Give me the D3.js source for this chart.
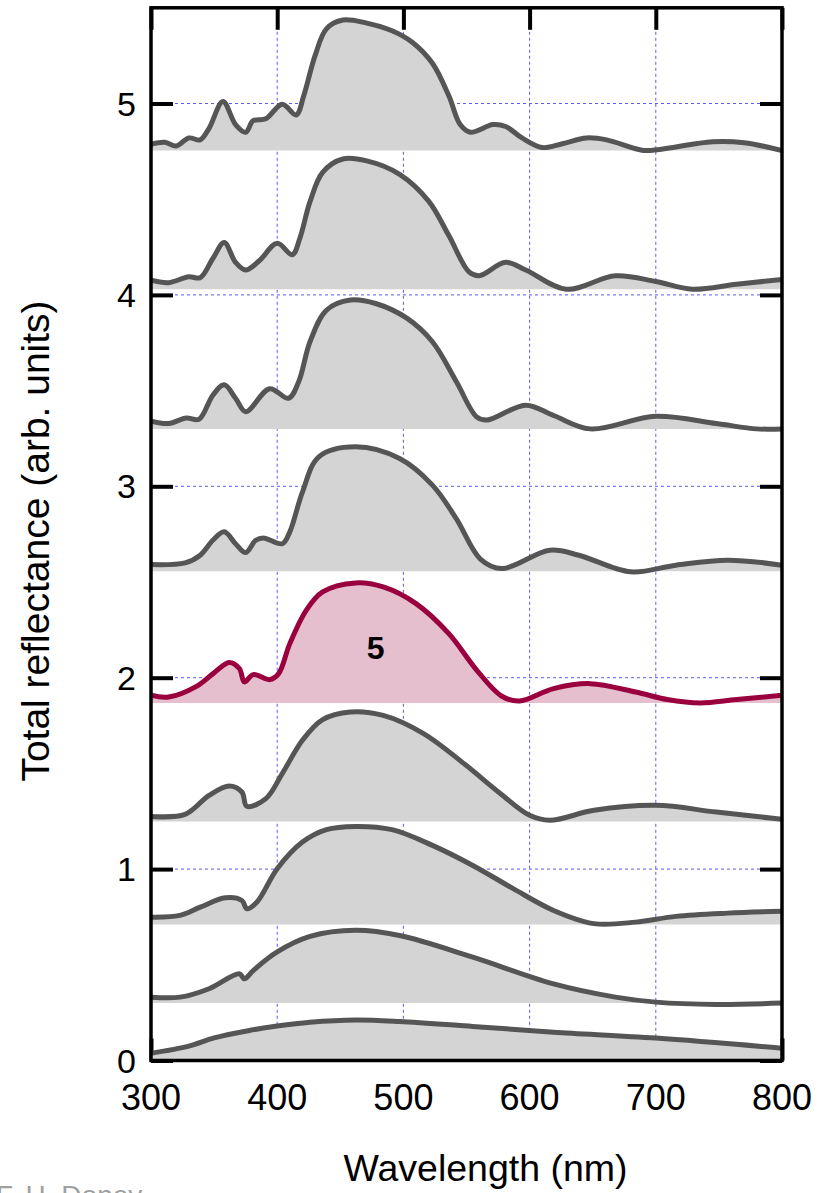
<!DOCTYPE html>
<html>
<head>
<meta charset="utf-8">
<script src="https://cdn.jsdelivr.net/npm/d3@7"></script>
<style>
  html, body { margin: 0; padding: 0; background: #fff; overflow: hidden; }
  svg { display: block; }
  text { font-family: "Liberation Sans", Arial, sans-serif; }
</style>
</head>
<body>
<svg id="chart" width="823" height="1193"></svg>
<script>
// ---- data (wavelength nm, reflectance arb. units) ----
const xTicks = [300, 400, 500, 600, 700, 800];
const yTicks = [0, 1, 2, 3, 4, 5];
const xTitle = "Wavelength (nm)";
const yTitle = "Total reflectance (arb. units)";
const credit = "F. H. Doney";
const highlightLabel = "5";

const s1 = [[300,4.787],[311,4.797],[320,4.778],[330,4.82],[339,4.81],[346,4.87],[357,5.01],[367,4.89],[375,4.85],[381,4.91],[391,4.92],[404,4.996],[415,4.94],[421,5.04],[430,5.25],[439,5.39],[452,5.436],[471,5.42],[491,5.38],[507,5.32],[523,5.21],[536,5.04],[545,4.89],[553,4.85],[571,4.89],[581,4.88],[594,4.82],[610,4.77],[626,4.79],[645,4.82],[661,4.81],[690,4.755],[703,4.76],[745,4.80],[770,4.795],[800,4.754]];
const s2 = [[300,4.077],[314,4.064],[330,4.095],[339,4.09],[349,4.19],[358,4.274],[367,4.17],[375,4.13],[386,4.18],[400,4.27],[412,4.21],[418,4.297],[426,4.487],[436,4.64],[452,4.71],[471,4.70],[497,4.63],[520,4.49],[536,4.31],[552,4.12],[560,4.10],[581,4.17],[597,4.13],[629,4.03],[668,4.10],[700,4.07],[729,4.03],[764,4.056],[800,4.08]];
const s3 = [[300,3.34],[314,3.328],[328,3.357],[338,3.35],[349,3.476],[358,3.53],[367,3.46],[375,3.39],[394,3.51],[409,3.46],[417,3.546],[426,3.755],[439,3.92],[458,3.973],[478,3.955],[503,3.877],[523,3.755],[542,3.546],[558,3.363],[566,3.346],[597,3.424],[619,3.37],[648,3.30],[700,3.366],[748,3.328],[780,3.30],[800,3.30]];
const s4 = [[300,2.591],[327,2.60],[339,2.64],[349,2.718],[358,2.762],[367,2.70],[375,2.654],[383,2.718],[389,2.73],[404,2.70],[410,2.762],[420,2.97],[433,3.154],[462,3.206],[497,3.145],[523,3.006],[542,2.83],[561,2.62],[578,2.57],[616,2.666],[639,2.64],[680,2.553],[716,2.588],[757,2.614],[800,2.588]];
const s5 = [[300,1.908],[314,1.899],[336,1.955],[349,2.02],[362,2.08],[370,2.048],[374,1.978],[381,2.016],[394,1.99],[401,2.02],[410,2.178],[423,2.352],[436,2.448],[462,2.495],[484,2.474],[510,2.387],[536,2.23],[558,2.04],[578,1.903],[592,1.878],[619,1.943],[648,1.969],[684,1.925],[709,1.886],[735,1.868],[764,1.886],[800,1.908]];
const s6 = [[300,1.275],[327,1.286],[346,1.385],[362,1.434],[372,1.403],[376,1.328],[391,1.368],[404,1.499],[420,1.673],[436,1.781],[458,1.821],[484,1.803],[516,1.708],[548,1.551],[577,1.394],[600,1.281],[616,1.255],[651,1.307],[700,1.333],[748,1.298],[800,1.26]];
const s7 = [[300,0.749],[323,0.758],[339,0.801],[359,0.85],[372,0.836],[376,0.793],[384,0.828],[400,1.002],[420,1.141],[439,1.206],[462,1.223],[491,1.206],[523,1.124],[555,1.019],[587,0.898],[619,0.784],[651,0.715],[684,0.723],[716,0.753],[757,0.77],[800,0.78]];
const s8 = [[300,0.331],[323,0.331],[346,0.375],[370,0.453],[374,0.427],[381,0.47],[400,0.567],[426,0.648],[462,0.68],[497,0.653],[555,0.54],[619,0.40],[668,0.331],[700,0.305],[748,0.293],[800,0.30]];
const s9 = [[300,0.038],[330,0.075],[350,0.118],[378,0.157],[400,0.18],[426,0.2],[462,0.212],[497,0.204],[555,0.178],[619,0.148],[700,0.117],[800,0.064]];

const seriesList = [s1, s2, s3, s4, s5, s6, s7, s8, s9];
const baselines = [4.754, 4.03, 3.30, 2.556, 1.868, 1.249, 0.711, 0.30, 0];
const highlightIndex = 4;

// ---- layout ----
const svg = d3.select("#chart");
const L = 151, R = 782, T = 7.8, B = 1060.5;
const x = d3.scaleLinear().domain([300, 800]).range([L, R]);
const y = d3.scaleLinear().domain([0, 5.5]).range([B, T]);

svg.append("defs").append("clipPath").attr("id", "plotclip")
  .append("rect").attr("x", L).attr("y", T).attr("width", R - L).attr("height", B - T);

// grid
const grid = svg.append("g");
grid.selectAll("line.vx").data(xTicks.slice(1, -1)).join("line")
  .attr("x1", d => x(d)).attr("x2", d => x(d)).attr("y1", T).attr("y2", B)
  .attr("stroke", "#5a5aff").attr("stroke-width", 1).attr("stroke-dasharray", "3,3");
grid.selectAll("line.hy").data(yTicks.slice(1)).join("line")
  .attr("x1", L).attr("x2", R).attr("y1", d => y(d)).attr("y2", d => y(d))
  .attr("stroke", "#5a5aff").attr("stroke-width", 1).attr("stroke-dasharray", "3,3");

// inward ticks via d3 axes
const tickLen = 22;
const styleTicks = g => { g.select(".domain").remove(); g.selectAll("line").attr("stroke", "#000").attr("stroke-width", 4); };
svg.append("g").attr("transform", `translate(${L},0)`)
  .call(d3.axisRight(y).tickValues(yTicks).tickSize(tickLen).tickFormat("")).call(styleTicks);
svg.append("g").attr("transform", `translate(${R},0)`)
  .call(d3.axisLeft(y).tickValues(yTicks).tickSize(tickLen).tickFormat("")).call(styleTicks);
svg.append("g").attr("transform", `translate(0,${T})`)
  .call(d3.axisBottom(x).tickValues(xTicks).tickSize(tickLen).tickFormat("")).call(styleTicks);
svg.append("g").attr("transform", `translate(0,${B})`)
  .call(d3.axisTop(x).tickValues(xTicks).tickSize(tickLen).tickFormat("")).call(styleTicks);

// curves
const curveType = d3.curveCatmullRom.alpha(0.5);
const curvesG = svg.append("g").attr("clip-path", "url(#plotclip)");
seriesList.forEach((s, i) => {
  const hi = i === highlightIndex;
  const area = d3.area().x(d => x(d[0])).y0(y(baselines[i])).y1(d => y(d[1])).curve(curveType);
  const line = d3.line().x(d => x(d[0])).y(d => y(d[1])).curve(curveType);
  curvesG.append("path").datum(s).attr("d", area)
    .attr("fill", hi ? "#e5bfce" : "#d4d4d4");
  curvesG.append("path").datum(s).attr("d", line)
    .attr("fill", "none").attr("stroke", hi ? "#99003d" : "#555555")
    .attr("stroke-width", 5).attr("stroke-linejoin", "round").attr("stroke-linecap", "butt");
});

// label on highlighted curve
svg.append("text").attr("x", x(478)).attr("y", y(2.0) - 19)
  .attr("text-anchor", "middle").attr("font-size", 32).attr("font-weight", "bold")
  .attr("fill", "#000").text(highlightLabel);

// frame
svg.append("rect").attr("x", L).attr("y", T).attr("width", R - L).attr("height", B - T)
  .attr("fill", "none").attr("stroke", "#000").attr("stroke-width", 3.5);

// tick labels
svg.append("g").selectAll("text").data(yTicks).join("text")
  .attr("x", 136).attr("y", d => y(d) + 12).attr("text-anchor", "end")
  .attr("font-size", 34).attr("fill", "#000").text(d => d);
svg.append("g").selectAll("text").data(xTicks).join("text")
  .attr("x", d => x(d)).attr("y", 1110).attr("text-anchor", "middle")
  .attr("font-size", 36).attr("fill", "#000").text(d => d);

// titles
svg.append("text").attr("x", 485.5).attr("y", 1181).attr("text-anchor", "middle")
  .attr("font-size", 37.5).attr("fill", "#000").text(xTitle);
svg.append("text").attr("transform", "translate(49,541) rotate(-90)").attr("text-anchor", "middle")
  .attr("font-size", 39).attr("fill", "#000").text(yTitle);

// credit (partially cut off at bottom, as in the reference)
svg.append("text").attr("x", -4).attr("y", 1205).attr("font-size", 28)
  .attr("fill", "#a0a0a0").text(credit);
</script>
</body>
</html>
